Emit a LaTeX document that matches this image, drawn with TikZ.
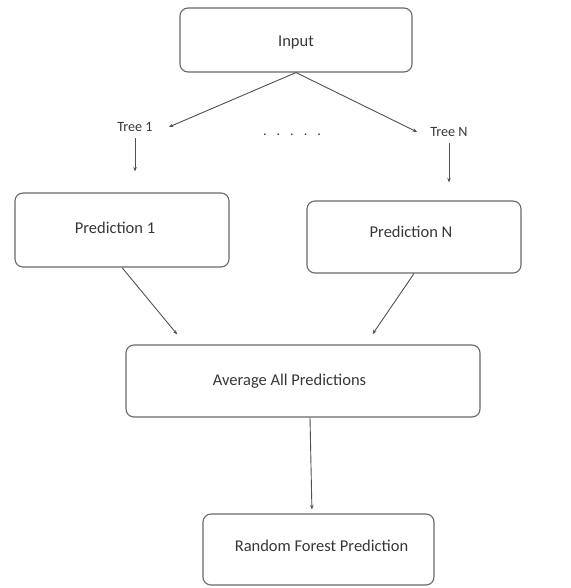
\documentclass[tikz,border=0pt]{standalone}
\usepackage{fontspec}
\setmainfont{Carlito}
\usetikzlibrary{arrows.meta}
\definecolor{boxgray}{RGB}{105,105,105}
\definecolor{linegray}{RGB}{80,80,80}
\definecolor{txtgray}{RGB}{55,55,55}
\begin{document}
\begin{tikzpicture}[x=1pt,y=-1pt,
  box/.style={draw=boxgray, line width=1.1pt, rounded corners=8pt, fill=white,
    inner sep=0pt, font=\fontsize{16.5}{19}\selectfont, text=txtgray},
  conn/.style={draw=linegray, line width=0.9pt, -{Stealth[length=4.5pt,width=3.5pt]}},
  lbl/.style={font=\fontsize{14.2}{17}\selectfont, text=txtgray}]
\useasboundingbox (0,0) rectangle (570,588);
\node[box, minimum width=232pt, minimum height=64pt] (in) at (296,40) {\raisebox{0pt}[\dimexpr\height+6pt\relax]{Input}};
\node[lbl, inner xsep=16pt, inner ysep=6pt] (t1) at (135,127) {Tree 1};
\node[lbl, inner xsep=13pt, inner ysep=6pt] (tn) at (449,132) {Tree N};
\node[lbl] (dots) at (292,135) {.\hspace{10pt}.\hspace{10pt}.\hspace{10pt}.\hspace{10pt}.};
\node[box, minimum width=214pt, minimum height=74pt] (p1) at (122,230) {\hspace*{-14pt}\raisebox{4pt}{Prediction 1}};
\node[box, minimum width=214pt, minimum height=72pt] (pn) at (414,237) {\hspace*{-6pt}\raisebox{10pt}{Prediction N}};
\node[box, minimum width=354pt, minimum height=72pt] (avg) at (303,381) {\hspace*{-27pt}Average All Predictions};
\node[box, minimum width=231pt, minimum height=71pt] (rf) at (318.5,549.5) {\hspace*{6pt}\raisebox{8pt}{Random Forest Prediction}};
\draw[conn] (in.south) -- (t1.east);
\draw[conn] (in.south) -- (tn.west);
\draw[conn, shorten >=21pt] (t1.south) -- (t1.south |- p1.north);
\draw[conn, shorten >=18pt] (tn.south) -- (tn.south |- pn.north);
\draw[conn, shorten >=13pt] (p1.south) -- ([xshift=60pt]avg.north west);
\draw[conn, shorten >=12.5pt] (pn.south) -- ([xshift=-115pt]avg.north east);
\draw[conn, shorten >=4pt] ([xshift=7pt]avg.south) -- ([xshift=-6.5pt]rf.north);
\end{tikzpicture}
\end{document}
